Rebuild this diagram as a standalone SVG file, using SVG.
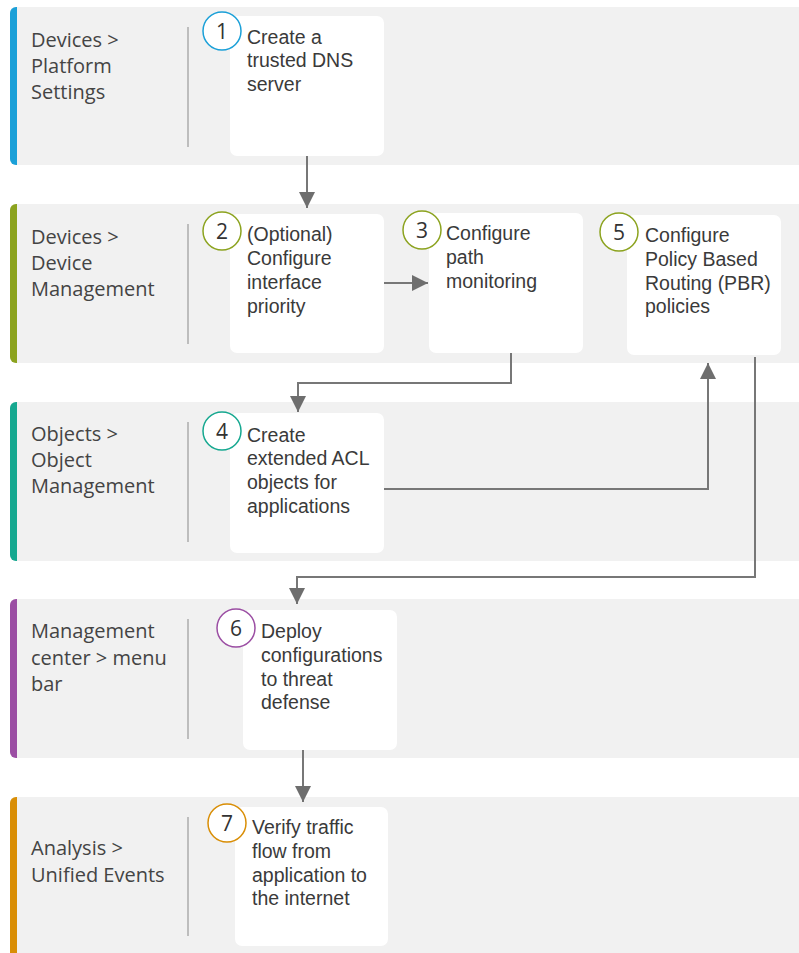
<svg xmlns="http://www.w3.org/2000/svg" width="799" height="953" viewBox="0 0 799 953">
<style>
.lane{fill:#f1f1f1}
.div{stroke:#bdbdbd;stroke-width:2}
.lbl{font-family:"Open Sans","Liberation Sans",sans-serif;font-size:20px;fill:#444}
.box{fill:#fff}
.txt{font-family:"Liberation Sans",Arial,sans-serif;font-size:19.5px;fill:#3a3a3a}
.num{font-family:"Open Sans","Liberation Sans",sans-serif;font-size:21px;fill:#333;text-anchor:middle}
.circ{fill:#fff;stroke-width:1.5}
.con{fill:none;stroke:#777;stroke-width:2}
</style>
<defs>
<marker id="ah" viewBox="0 0 10 10" refX="10" refY="5" markerWidth="8" markerHeight="8" markerUnits="userSpaceOnUse" orient="auto">
<path d="M0,0 L10,5 L0,10 z" fill="#6e6e6e"/>
</marker>
<marker id="ah2" viewBox="0 0 16 16" refX="16" refY="8" markerWidth="16" markerHeight="16" markerUnits="userSpaceOnUse" orient="auto">
<path d="M0,0 L16,8 L0,16 z" fill="#6e6e6e"/>
</marker>
</defs>

<g id="lane1">
<rect class="lane" x="10" y="7" width="800" height="158" rx="6"/>
<path d="M17,7 H16 A6,6 0 0 0 10,13 V159 A6,6 0 0 0 16,165 H17 z" fill="#1ba0d8"/>
<line class="div" x1="188" y1="27" x2="188" y2="147"/>
<text class="lbl" x="31" y="47">Devices &gt;</text>
<text class="lbl" x="31" y="73">Platform</text>
<text class="lbl" x="31" y="99">Settings</text>
</g>
<g id="lane2">
<rect class="lane" x="10" y="204" width="800" height="159" rx="6"/>
<path d="M17,204 H16 A6,6 0 0 0 10,210 V357 A6,6 0 0 0 16,363 H17 z" fill="#8ca31f"/>
<line class="div" x1="188" y1="224" x2="188" y2="344"/>
<text class="lbl" x="31" y="244">Devices &gt;</text>
<text class="lbl" x="31" y="270">Device</text>
<text class="lbl" x="31" y="296">Management</text>
</g>
<g id="lane3">
<rect class="lane" x="10" y="402" width="800" height="159" rx="6"/>
<path d="M17,402 H16 A6,6 0 0 0 10,408 V555 A6,6 0 0 0 16,561 H17 z" fill="#16a890"/>
<line class="div" x1="188" y1="422" x2="188" y2="542"/>
<text class="lbl" x="31" y="441">Objects &gt;</text>
<text class="lbl" x="31" y="467">Object</text>
<text class="lbl" x="31" y="493">Management</text>
</g>
<g id="lane4">
<rect class="lane" x="10" y="599" width="800" height="159" rx="6"/>
<path d="M17,599 H16 A6,6 0 0 0 10,605 V752 A6,6 0 0 0 16,758 H17 z" fill="#9b4ea3"/>
<line class="div" x1="188" y1="619" x2="188" y2="739"/>
<text class="lbl" x="31" y="638">Management</text>
<text class="lbl" x="31" y="665">center &gt; menu</text>
<text class="lbl" x="31" y="691">bar</text>
</g>
<g id="lane5">
<rect class="lane" x="10" y="797" width="800" height="170" rx="6"/>
<path d="M17,797 H16 A6,6 0 0 0 10,803 V960 H17 z" fill="#d98e06"/>
<line class="div" x1="188" y1="817" x2="188" y2="936"/>
<text class="lbl" x="31" y="855">Analysis &gt;</text>
<text class="lbl" x="31" y="882">Unified Events</text>
</g>

<g id="connectors">
<path class="con" d="M307,156 V208" marker-end="url(#ah2)"/>
<path class="con" d="M384,283 H428" marker-end="url(#ah2)"/>
<path class="con" d="M511,353 V383 H298 V412" marker-end="url(#ah2)"/>
<path class="con" d="M383,489 H708 V363" marker-end="url(#ah2)"/>
<path class="con" d="M755,357 V577 H297 V604" marker-end="url(#ah2)"/>
<path class="con" d="M303,750 V802" marker-end="url(#ah2)"/>
</g>

<g id="step1">
<rect class="box" x="230" y="16" width="154" height="140" rx="7"/>
<circle class="circ" cx="222" cy="31" r="19" stroke="#1ba0d8"/>
<text class="num" x="222" y="39">1</text>
<text class="txt" x="247" y="44">Create a</text>
<text class="txt" x="247" y="67">trusted DNS</text>
<text class="txt" x="247" y="91">server</text>
</g>
<g id="step2">
<rect class="box" x="230" y="214" width="154" height="139" rx="7"/>
<circle class="circ" cx="222" cy="231" r="19" stroke="#8ca31f"/>
<text class="num" x="222" y="239">2</text>
<text class="txt" x="247" y="241">(Optional)</text>
<text class="txt" x="247" y="265">Configure</text>
<text class="txt" x="247" y="289">interface</text>
<text class="txt" x="247" y="313">priority</text>
</g>
<g id="step3">
<rect class="box" x="429" y="213" width="154" height="140" rx="7"/>
<circle class="circ" cx="422" cy="230" r="19" stroke="#8ca31f"/>
<text class="num" x="422" y="238">3</text>
<text class="txt" x="446" y="240">Configure</text>
<text class="txt" x="446" y="264">path</text>
<text class="txt" x="446" y="288">monitoring</text>
</g>
<g id="step4">
<rect class="box" x="230" y="413" width="154" height="140" rx="7"/>
<circle class="circ" cx="222" cy="431" r="19" stroke="#16a890"/>
<text class="num" x="222" y="439">4</text>
<text class="txt" x="247" y="442">Create</text>
<text class="txt" x="247" y="465">extended ACL</text>
<text class="txt" x="247" y="489">objects for</text>
<text class="txt" x="247" y="513">applications</text>
</g>
<g id="step5">
<rect class="box" x="627" y="215" width="154" height="140" rx="7"/>
<circle class="circ" cx="619" cy="232" r="19" stroke="#8ca31f"/>
<text class="num" x="619" y="240">5</text>
<text class="txt" x="645" y="242">Configure</text>
<text class="txt" x="645" y="266">Policy Based</text>
<text class="txt" x="645" y="290">Routing (PBR)</text>
<text class="txt" x="645" y="313">policies</text>
</g>
<g id="step6">
<rect class="box" x="243" y="610" width="154" height="140" rx="7"/>
<circle class="circ" cx="236" cy="628" r="19" stroke="#9b4ea3"/>
<text class="num" x="236" y="636">6</text>
<text class="txt" x="261" y="638">Deploy</text>
<text class="txt" x="261" y="662">configurations</text>
<text class="txt" x="261" y="686">to threat</text>
<text class="txt" x="261" y="709">defense</text>
</g>
<g id="step7">
<rect class="box" x="235" y="807" width="153" height="139" rx="7"/>
<circle class="circ" cx="227" cy="823" r="19" stroke="#d98e06"/>
<text class="num" x="227" y="831">7</text>
<text class="txt" x="252" y="834">Verify traffic</text>
<text class="txt" x="252" y="858">flow from</text>
<text class="txt" x="252" y="882">application to</text>
<text class="txt" x="252" y="905">the internet</text>
</g>
</svg>
